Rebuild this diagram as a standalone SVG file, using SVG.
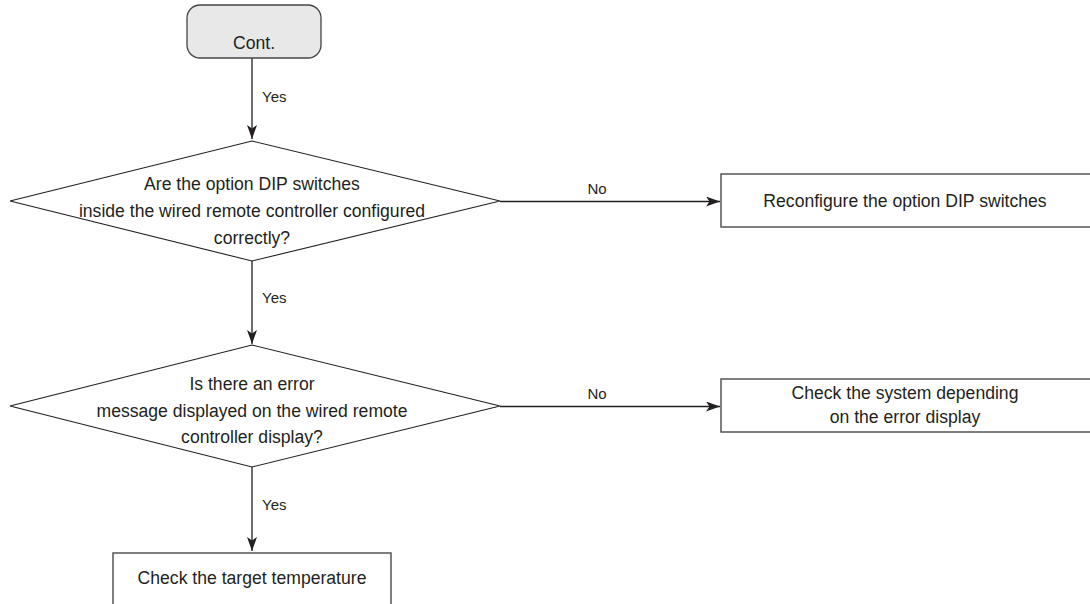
<svg xmlns="http://www.w3.org/2000/svg" width="1090" height="604" viewBox="0 0 1090 604">
<style>
.t{font-family:"Liberation Sans",Arial,sans-serif;font-size:17.6px;fill:#231f20;text-anchor:middle}
.l{font-family:"Liberation Sans",Arial,sans-serif;font-size:15px;fill:#231f20}
.lc{text-anchor:middle}
.box{fill:#fff;stroke:#555;stroke-width:1.5}
.dia{fill:#fff;stroke:#231f20;stroke-width:1.1}
.c{fill:none;stroke:#231f20;stroke-width:1.3}
</style>
<defs>
<marker id="ah" markerUnits="userSpaceOnUse" markerWidth="16" markerHeight="12" refX="14" refY="5" orient="auto">
<path d="M0,0 L14,5 L0,10 L3.5,5 Z" fill="#231f20"/>
</marker>
</defs>
<rect width="1090" height="604" fill="#fff"/>
<g id="connectors">
<line class="c" x1="252" y1="58" x2="252" y2="139" marker-end="url(#ah)"/>
<text class="l" x="262" y="102">Yes</text>
<line class="c" x1="252" y1="261" x2="252" y2="344" marker-end="url(#ah)"/>
<text class="l" x="262" y="303">Yes</text>
<line class="c" x1="252" y1="467" x2="252" y2="551" marker-end="url(#ah)"/>
<text class="l" x="262" y="510">Yes</text>
<line class="c" x1="500" y1="201.5" x2="720" y2="201.5" marker-end="url(#ah)"/>
<text class="l lc" x="597" y="194">No</text>
<line class="c" x1="500" y1="406.5" x2="720" y2="406.5" marker-end="url(#ah)"/>
<text class="l lc" x="597" y="399">No</text>
</g>
<g id="n_cont">
<rect x="187" y="5" width="134" height="53" rx="13" fill="#e8e8e8" stroke="#444" stroke-width="1.3"/>
<text class="t" x="254" y="49">Cont.</text>
</g>
<g id="n_dip">
<polygon class="dia" points="252,141 500,201 252,261 10,201"/>
<text class="t" x="252" y="190">Are the option DIP switches</text>
<text class="t" x="252" y="217">inside the wired remote controller configured</text>
<text class="t" x="252" y="244">correctly?</text>
</g>
<g id="n_reconf">
<rect class="box" x="721" y="174" width="372" height="53"/>
<text class="t" x="905" y="207">Reconfigure the option DIP switches</text>
</g>
<g id="n_err">
<polygon class="dia" points="252,345 500,406 252,467 10,406"/>
<text class="t" x="252" y="390">Is there an error</text>
<text class="t" x="252" y="417">message displayed on the wired remote</text>
<text class="t" x="252" y="443">controller display?</text>
</g>
<g id="n_check">
<rect class="box" x="721" y="379" width="372" height="53"/>
<text class="t" x="905" y="399">Check the system depending</text>
<text class="t" x="905" y="423">on the error display</text>
</g>
<g id="n_target">
<rect class="box" x="113" y="553" width="278" height="60"/>
<text class="t" x="252" y="584">Check the target temperature</text>
</g>
</svg>
